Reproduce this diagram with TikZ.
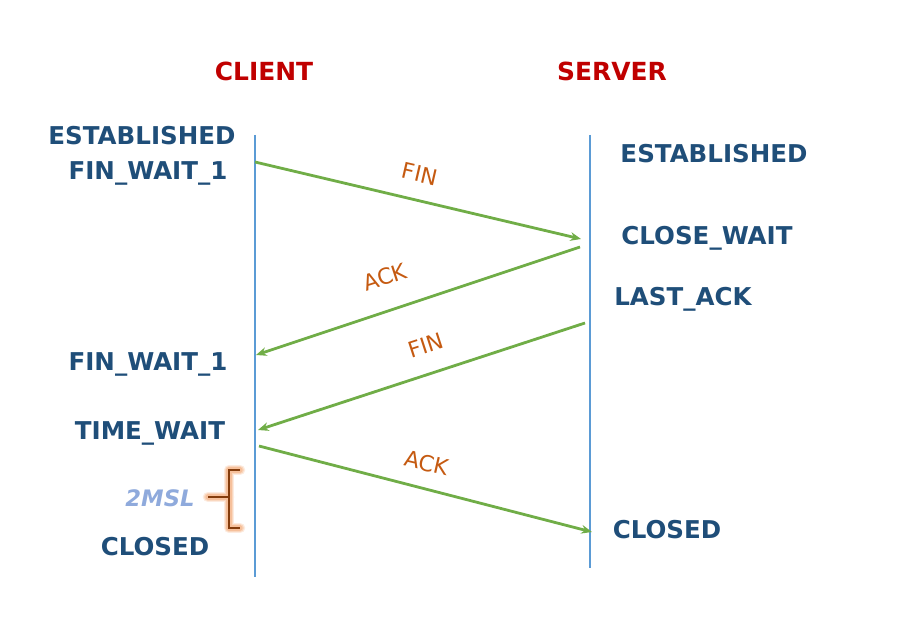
\documentclass[tikz,border=0pt]{standalone}
\usepackage{fontspec}
\setmainfont{DejaVu Sans}
\usetikzlibrary{arrows.meta}
\definecolor{stateblue}{HTML}{1F4E79}
\definecolor{headred}{HTML}{C00000}
\definecolor{msggreen}{HTML}{70AD47}
\definecolor{msgorange}{HTML}{C55A11}
\definecolor{lifeblue}{HTML}{5B9BD5}
\definecolor{msllight}{HTML}{8FAADC}
\definecolor{brbrown}{HTML}{843C0C}
\definecolor{brglow}{HTML}{F4B183}
\tikzset{
  head/.style={font=\bfseries\fontsize{18.7}{22}\selectfont, text=headred, inner sep=0pt},
  state/.style={font=\bfseries\fontsize{18.4}{22}\selectfont, text=stateblue, inner sep=0pt},
  msglabel/.style={font=\fontsize{16.5}{19}\selectfont, text=msgorange, inner sep=0pt},
  lifeline/.style={draw=lifeblue, line width=0.8pt},
  msg/.style={draw=msggreen, line width=2.1pt, -{Stealth[length=8pt,width=6.5pt]}},
}
\begin{document}
\begin{tikzpicture}[x=0.75pt,y=-0.75pt]
\useasboundingbox (0,0) rectangle (916,620);
% lifelines
\coordinate (ctop) at (255,135);
\coordinate (cbot) at (255,577);
\coordinate (stop) at (590,135);
\coordinate (sbot) at (590,568);
\draw[lifeline] (ctop) -- (cbot);
\draw[lifeline] (stop) -- (sbot);
% headers
\node[head] (client) at (264,71) {CLIENT};
\node[head] (server) at (612,71) {SERVER};
% client states
\node[state] (cest) at (142,136) {ESTABLISHED};
\node[state] (cfw1) at (148,173) {FIN\_WAIT\_1};
\node[state] (cfw2) at (148,364) {FIN\_WAIT\_1};
\node[state] (ctw) at (150,433) {TIME\_WAIT};
\node[font=\bfseries\itshape\fontsize{17}{20}\selectfont, text=msllight, inner sep=0pt] (msl) at (160,498) {2MSL};
\node[state] (ccl) at (155,547) {CLOSED};
% server states
\node[state] (sest) at (714,154) {ESTABLISHED};
\node[state] (scw) at (707,238) {CLOSE\_WAIT};
\node[state] (sla) at (683,299) {LAST\_ACK};
\node[state] (scl) at (667,530) {CLOSED};
% message endpoints
\coordinate (m1a) at (255,162);
\coordinate (m1b) at (581,239);
\coordinate (m2a) at (580,247);
\coordinate (m2b) at (256,355);
\coordinate (m3a) at (585,323);
\coordinate (m3b) at (258,430);
\coordinate (m4a) at (259,446);
\coordinate (m4b) at (592,532);
\draw[msg] (m1a) -- (m1b);
\draw[msg] (m2a) -- (m2b);
\draw[msg] (m3a) -- (m3b);
\draw[msg] (m4a) -- (m4b);
\node[msglabel, rotate=-13] (l1) at (420,174) {FIN};
\node[msglabel, rotate=18] (l2) at (385,277) {ACK};
\node[msglabel, rotate=18] (l3) at (426,345) {FIN};
\node[msglabel, rotate=-13] (l4) at (427,463) {ACK};
% bracket
\coordinate (bt) at (240,470);
\coordinate (bb) at (240,528);
\coordinate (bm) at (229,497);
\coordinate (btick) at (208,497);
\foreach \w/\o in {8/0.25,6/0.35,4/0.6}{
  \draw[brglow, line width=\w pt, opacity=\o, line cap=round, line join=round]
    (bt) -- (229,470) -- (229,528) -- (bb) (btick) -- (bm);
}
\draw[brbrown, line width=1.5pt] (bt) -- (229,470) -- (229,528) -- (bb) (btick) -- (bm);
\end{tikzpicture}
\end{document}
